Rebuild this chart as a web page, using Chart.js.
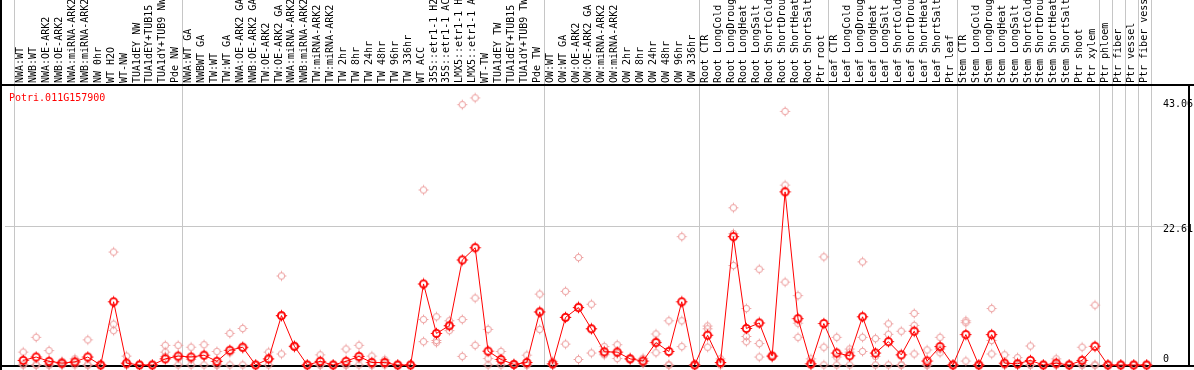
<!DOCTYPE html>
<html>
<head>
<meta charset="utf-8">
<title>Potri.011G157900</title>
<script src="https://cdn.jsdelivr.net/npm/chart.js@4"></script>
<style>
  html, body { margin: 0; padding: 0; background: #fff; }
  #wrap { width: 1194px; height: 370px; }
</style>
</head>
<body>
<div id="wrap"><canvas id="expr" width="1194" height="370"></canvas></div>
<script>
const geneName = "Potri.011G157900";

const samples = [
    "NWA:WT", "NWB:WT", "NWA:OE-ARK2", "NWB:OE-ARK2", "NWA:miRNA-ARK2", "NWB:miRNA-ARK2",
    "NW 0hr", "WT H2O", "WT-NW", "TUA1dEY NW", "TUA1dEY+TUB15 NW", "TUA1dY+TUB9 NW", "Pde NW",
    "NWA:WT GA", "NWBWT GA", "TW:WT", "TW:WT GA", "NWA:OE-ARK2 GA", "NWB:OE-ARK2 GA",
    "TW:OE-ARK2", "TW:OE-ARK2 GA", "NWA:miRNA-ARK2", "NWB:miRNA-ARK2", "TW:miRNA-ARK2",
    "TW:miRNA-ARK2", "TW 2hr", "TW 8hr", "TW 24hr", "TW 48hr", "TW 96hr", "TW 336hr",
    "WT ACC", "35S::etr1-1 H2O", "35S::etr1-1 ACC", "LMX5::etr1-1 H2O", "LMX5::etr1-1 ACC",
    "WT-TW", "TUA1dEY TW", "TUA1dEY+TUB15 TW", "TUA1dY+TUB9 TW", "Pde TW",
    "OW:WT", "OW:WT GA", "OW:OE-ARK2", "OW:OE-ARK2 GA", "OW:miRNA-ARK2", "OW:miRNA-ARK2",
    "OW 2hr", "OW 8hr", "OW 24hr", "OW 48hr", "OW 96hr", "OW 336hr",
    "Root CTR", "Root LongCold", "Root LongDrought", "Root LongHeat", "Root LongSalt",
    "Root ShortCold", "Root ShortDrought", "Root ShortHeat", "Root ShortSalt", "Ptr root",
    "Leaf CTR", "Leaf LongCold", "Leaf LongDrought", "Leaf LongHeat", "Leaf LongSalt",
    "Leaf ShortCold", "Leaf ShortDrought", "Leaf ShortHeat", "Leaf ShortSalt", "Ptr leaf",
    "Stem CTR", "Stem LongCold", "Stem LongDrought", "Stem LongHeat", "Stem LongSalt",
    "Stem ShortCold", "Stem ShortDrought", "Stem ShortHeat", "Stem ShortSalt", "Ptr shoot",
    "Ptr xylem", "Ptr phloem", "Ptr fiber", "Ptr vessel", "Ptr fiber vessel"
];

// index of the first sample of each group (last entry closes the final group)
const groupStarts = [0, 13, 41, 53, 63, 73, 84, 85, 86, 87, 88];

const yTickValues = [0, 22.61, 43.06];
const yGridValues = [22.61];

// mean expression per sample
const means = [
    0.75, 1.3, 0.6, 0.3, 0.5, 1.3, 0, 10.3, 0.3, 0, 0, 1.0, 1.45,
    1.3, 1.6, 0.6, 2.4, 2.9, 0, 1.0, 8.05, 3.05, 0, 0.6, 0, 0.6, 1.4, 0.4, 0.4, 0,
    0, 13.2, 5.15, 6.4, 17.1, 19.1, 2.25, 0.9, 0.1, 0.4, 8.65,
    0.2, 7.75, 9.35, 5.9, 2.15, 2.1, 1.0, 0.65, 3.65, 2.2, 10.3, 0,
    4.85, 0.4, 20.9, 5.95, 6.85, 1.45, 28.2, 7.55, 0.2, 6.75,
    1.95, 1.5, 7.85, 1.95, 3.8, 1.65, 5.5, 0.65, 3.0, 0,
    4.95, 0, 4.95, 0.3, 0.2, 0.75, 0, 0.3, 0, 0.75, 3.05,
    0, 0, 0, 0
];

// individual replicates
const rep1 = [
    2.1, 4.5, 2.35, 0.6, 1.0, 4.1, 0, 18.4, 1.45, 0, 0, 3.2, 3.2,
    2.9, 3.3, 2.2, 5.15, 5.95, 0, 2.1, 14.5, 3.2, 0, 1.65, 0, 2.6, 3.2, 1.45, 0.85, 0,
    0, 28.5, 7.85, 7.2, 42.4, 43.5, 5.8, 2.2, 0.2, 1.6, 11.55,
    0.6, 12.0, 17.5, 9.9, 3.0, 3.3, 1.1, 1.1, 5.05, 7.2, 20.9, 0,
    6.35, 1.0, 25.6, 9.2, 15.6, 1.6, 41.3, 11.3, 1.0, 17.6,
    4.5, 2.6, 16.8, 4.3, 6.7, 5.5, 8.4, 2.45, 4.5, 0,
    7.2, 0, 9.2, 1.65, 1.2, 3.1, 0, 1.0, 0, 2.9, 9.75,
    0, 0, 0, 0
];
const rep2 = [
    0.15, 0, 0, 0.3, 0.5, 0, 0, 6.65, 0, 0, 0, 2.1, 1.1,
    0.9, 1.5, 0, 2.0, 2.7, 0, 0.9, 7.9, 3.0, 0, 0, 0, 0, 1.0, 0, 0.3, 0,
    0, 7.4, 4.0, 6.4, 7.4, 10.9, 1.05, 0.6, 0, 0, 8.6,
    0, 7.8, 9.6, 5.9, 1.8, 1.9, 1.0, 0.6, 3.9, 0, 7.2, 0,
    5.9, 0.2, 21.4, 4.65, 3.5, 1.45, 29.3, 6.8, 0, 2.9,
    1.3, 2.1, 4.5, 1.4, 5.0, 0, 6.45, 0, 2.6, 0,
    6.9, 0, 4.0, 0, 0, 0, 0, 0, 0, 0, 0,
    0, 0, 0, 0
];
const rep3 = [
    0, 0, 0, 0, 0, 0, 0, 5.6, 0, 0, 0, 1.4, 0,
    0, 0, 0, 0, 0, 0, 0, 1.8, 2.9, 0, 0, 0, 0, 0, 0, 0, 0,
    0, 3.8, 3.65, 5.6, 1.4, 3.2, 0, 0, 0, 0, 5.8,
    0, 3.4, 0.9, 1.95, 1.65, 1.05, 0.9, 0.3, 2.0, 0, 3.0, 0,
    2.9, 0, 16.2, 3.8, 1.3, 1.3, 13.5, 4.5, 0, 0,
    0, 0, 2.2, 0, 0, 0, 1.8, 0, 2.0, 0,
    0.65, 0, 1.8, 0, 0, 0, 0, 0, 0, 0, 0,
    0, 0, 0, 0
];

function makeMarker(color, ringWidth, radius) {
    const c = document.createElement("canvas");
    c.width = 13;
    c.height = 13;
    const g = c.getContext("2d");
    g.strokeStyle = color;
    g.lineWidth = ringWidth;
    g.beginPath();
    g.arc(6.5, 6.5, radius, 0, Math.PI * 2);
    g.stroke();
    // little ticks on top, bottom, left and right
    g.lineWidth = 1;
    const out = radius + ringWidth / 2 + 1.2;
    g.beginPath();
    g.moveTo(6.5, 6.5 - out); g.lineTo(6.5, 6.5 - radius);
    g.moveTo(6.5, 6.5 + out); g.lineTo(6.5, 6.5 + radius);
    g.moveTo(6.5 - out, 6.5); g.lineTo(6.5 - radius, 6.5);
    g.moveTo(6.5 + out, 6.5); g.lineTo(6.5 + radius, 6.5);
    g.stroke();
    return c;
}

const toPoints = arr => arr.map((v, i) => ({ x: i, y: v }));

const frame = {
    id: "frame",
    beforeDatasetsDraw(chart) {
        const { ctx, chartArea: a, scales } = chart;
        const x = scales.x, y = scales.y;
        ctx.save();
        ctx.strokeStyle = "#c6c6c6";
        ctx.lineWidth = 1;
        groupStarts.forEach(s => {
            const px = Math.floor(x.getPixelForValue(s - 0.64)) + 0.5;
            ctx.beginPath();
            ctx.moveTo(px, 0);
            ctx.lineTo(px, a.bottom);
            ctx.stroke();
        });
        yGridValues.forEach(v => {
            const py = Math.round(y.getPixelForValue(v)) + 0.5;
            ctx.beginPath();
            ctx.moveTo(a.left, py);
            ctx.lineTo(a.right, py);
            ctx.stroke();
        });

        ctx.fillStyle = "#000";
        ctx.fillRect(0, a.top - 1, chart.width, 2);
        ctx.fillRect(0, 0, 2, chart.height);
        ctx.fillRect(a.right - 1, a.top, 2, a.bottom - a.top + 2);
        ctx.fillRect(0, a.bottom, chart.width, 2);

        ctx.font = "10px 'DejaVu Sans Mono'";
        ctx.textBaseline = "middle";
        ctx.textAlign = "left";
        yTickValues.forEach(v => {
            const py = Math.min(y.getPixelForValue(v) + 3.5, a.bottom - 6);
            ctx.fillText(String(v), 1163, py);
        });

        ctx.fillStyle = "#ff0000";
        ctx.fillText(geneName, 9, a.top + 13);
        ctx.restore();
    }
};

document.addEventListener("DOMContentLoaded", () => {
    const ctx = document.getElementById("expr").getContext("2d");
    const meanMark = makeMarker("#ff0000", 1.8, 3.6);
    const repMark = makeMarker("#ec9a9a", 1, 3.2);

    const repSet = data => ({
        type: "scatter",
        data: toPoints(data),
        pointStyle: repMark,
        showLine: false,
        clip: false,
        order: 2
    });

    new Chart(ctx, {
        type: "line",
        data: {
            datasets: [
                {
                    label: geneName,
                    data: toPoints(means),
                    borderColor: "#ff0000",
                    borderWidth: 1,
                    pointStyle: meanMark,
                    tension: 0,
                    clip: false,
                    order: 1
                },
                repSet(rep1),
                repSet(rep2),
                repSet(rep3)
            ]
        },
        options: {
            responsive: false,
            animation: false,
            devicePixelRatio: 1,
            layout: { padding: { left: 1, right: 1, top: 0, bottom: 2 } },
            plugins: {
                legend: { display: false },
                tooltip: { enabled: false }
            },
            scales: {
                x: {
                    type: "linear",
                    position: "top",
                    bounds: "data",
                    min: -1.4115,
                    max: 90.2808,
                    afterBuildTicks: s => { s.ticks = samples.map((_, i) => ({ value: i })); },
                    afterFit: s => { s.height = 85; },
                    grid: { display: false, drawTicks: false },
                    border: { display: false },
                    ticks: {
                        autoSkip: false,
                        minRotation: 90,
                        maxRotation: 90,
                        padding: 2,
                        labelOffset: 9.5,
                        color: "#000",
                        font: { family: "'DejaVu Sans Mono'", size: 10 },
                        callback: (v, i) => samples[i]
                    }
                },
                y: {
                    type: "linear",
                    display: false,
                    min: 0,
                    max: 45.6
                }
            }
        },
        plugins: [frame]
    });
});
</script>
</body>
</html>
